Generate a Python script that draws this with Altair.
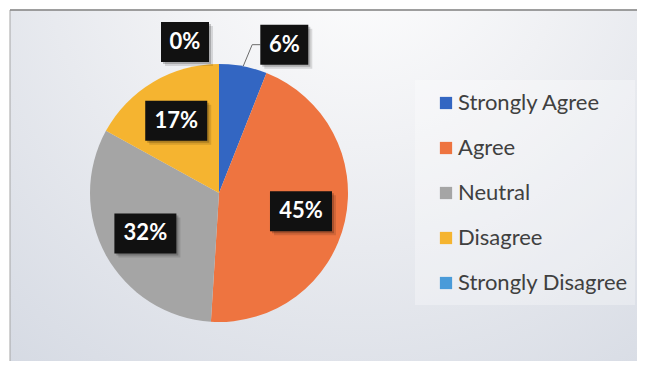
import altair as alt
import pandas as pd

categories = ["Strongly Agree", "Agree", "Neutral", "Disagree", "Strongly Disagree"]
percents = [6, 45, 32, 17, 0]
colors = ["#3366C2", "#EE7440", "#A5A5A5", "#F5B430", "#4A9BD9"]

df = pd.DataFrame({"category": categories, "pct": percents, "idx": list(range(len(categories)))})

W, H = 629, 353
CX, CY, R = 211, 185, 129
LR_IN, LR_OUT = 84, 151

xs = alt.Scale(domain=[0, W], nice=False, zero=False)
ys = alt.Scale(domain=[H, 0], nice=False, zero=False)
col = alt.Color("category:N", scale=alt.Scale(domain=categories, range=colors), legend=None)

# ---------- background ----------
dummy = pd.DataFrame({"d": [0]})
panel = alt.Chart(dummy).mark_rect(
    fill={"gradient": "radial",
          "stops": [{"offset": 0, "color": "#ffffff"},
                    {"offset": 0.35, "color": "#f0f1f4"},
                    {"offset": 1, "color": "#d2d7e1"}],
          "x1": 0.55, "y1": 0.1, "r1": 0, "x2": 0.55, "y2": 0.1, "r2": 0.95},
    stroke="#a5a5a5", strokeWidth=1,
).encode(x=alt.value(2), x2=alt.value(W + 4), y=alt.value(2), y2=alt.value(H + 4))

topline = alt.Chart(dummy).mark_rule(color="#8c8c8c", strokeWidth=1.5).encode(
    x=alt.value(2), x2=alt.value(W), y=alt.value(2), y2=alt.value(2))

legbox = alt.Chart(dummy).mark_rect(fill="#ffffff", opacity=0.3).encode(
    x=alt.value(407), x2=alt.value(627), y=alt.value(72), y2=alt.value(297))

# ---------- pie ----------
base = alt.Chart(df).transform_joinaggregate(
    total="sum(pct)"
).transform_window(
    cum="sum(pct)", sort=[alt.SortField("idx")], frame=[None, 0]
).transform_calculate(
    a0="(datum.cum - datum.pct) / datum.total * 2 * PI",
    a1="datum.cum / datum.total * 2 * PI",
    mid="(datum.cum - datum.pct / 2) / datum.total * 2 * PI",
    label="datum.pct + '%'",
    outside="datum.pct < 10",
).transform_calculate(
    lr=f"datum.outside ? {LR_OUT} : {LR_IN}",
    shift="datum.outside ? (datum.mid < PI ? 37 : -34) : 0",
    w="14 * length(datum.label) + 20",
).transform_calculate(
    lx=f"{CX} + datum.lr * sin(datum.mid) + datum.shift",
    ly=f"{CY} - datum.lr * cos(datum.mid)",
    ex=f"{CX} + {R} * sin(datum.mid)",
    ey=f"{CY} - {R} * cos(datum.mid)",
).transform_calculate(
    bx0="datum.lx - datum.w / 2",
    bx1="datum.lx + datum.w / 2",
    by0="datum.ly - 20",
    by1="datum.ly + 20",
    elx="datum.ex + 9",
)

pie = base.mark_arc(outerRadius=R, stroke=None).encode(
    theta=alt.Theta("a0:Q", scale=None),
    theta2=alt.Theta2("a1:Q"),
    color=col,
    x=alt.value(CX), y=alt.value(CY),
)

lead = base.transform_filter("datum.outside && datum.pct > 0")
lead1 = lead.mark_rule(color="#6b6b6b", strokeWidth=1).encode(
    x=alt.X("ex:Q", scale=xs, axis=None), y=alt.Y("ey:Q", scale=ys, axis=None),
    x2="elx:Q", y2="ly:Q")
lead2 = lead.mark_rule(color="#6b6b6b", strokeWidth=1).encode(
    x=alt.X("elx:Q", scale=xs, axis=None), y=alt.Y("ly:Q", scale=ys, axis=None),
    x2="bx0:Q", y2="ly:Q")

def box(dx, dy, color, op):
    return base.transform_calculate(
        sx0=f"datum.bx0 + {dx}", sx1=f"datum.bx1 + {dx}",
        sy0=f"datum.by0 + {dy}", sy1=f"datum.by1 + {dy}",
    ).mark_rect(color=color, opacity=op).encode(
        x=alt.X("sx0:Q", scale=xs, axis=None), x2="sx1:Q",
        y=alt.Y("sy0:Q", scale=ys, axis=None), y2="sy1:Q")

shadow1 = box(4, 4, "#000000", 0.12)
shadow2 = box(2, 2, "#000000", 0.2)
boxes = box(0, 0, "#111111", 1)

labels = base.mark_text(font="Lato", fontWeight="bold", fontSize=22, color="white",
                        align="center", baseline="middle").encode(
    x=alt.X("lx:Q", scale=xs, axis=None), y=alt.Y("ly:Q", scale=ys, axis=None),
    text="label:N")

# ---------- legend ----------
leg = alt.Chart(df).transform_calculate(
    gy="95 + 45 * datum.idx", sx="438", tx="450")
leg_sym = leg.mark_square(size=150, opacity=1, filled=True).encode(
    x=alt.X("sx:Q", scale=xs, axis=None), y=alt.Y("gy:Q", scale=ys, axis=None), color=col)
leg_txt = leg.mark_text(font="Lato", fontSize=22, color="#404040", align="left",
                        baseline="middle").encode(
    x=alt.X("tx:Q", scale=xs, axis=None), y=alt.Y("gy:Q", scale=ys, axis=None),
    text="category:N")

chart = alt.layer(
    panel, topline, legbox, pie, lead1, lead2, shadow1, shadow2, boxes, labels, leg_sym, leg_txt
).properties(
    width=W, height=H, padding=0, autosize=alt.AutoSizeParams(type="none"),
    background="white",
).configure_view(stroke=None)

chart.save("out.html", embed_options={"renderer": "svg", "actions": False})
